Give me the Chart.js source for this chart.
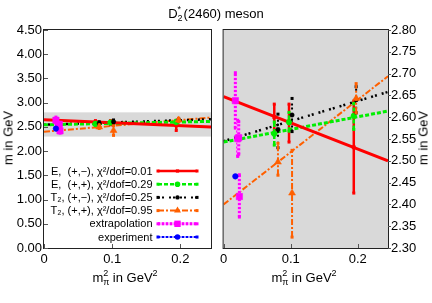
<!DOCTYPE html>
<html><head><meta charset="utf-8">
<script src="https://cdn.jsdelivr.net/npm/chart.js@4.4.0/dist/chart.umd.min.js"></script>
<style>
html,body{margin:0;padding:0;background:#fff;}
#wrap{position:relative;width:432px;height:303px;overflow:hidden;font-family:"Liberation Sans",Arial,sans-serif;color:#000;}
canvas{position:absolute;top:0;}
.t{position:absolute;font-size:13px;white-space:nowrap;line-height:13px;}
.st{position:relative;display:inline-block;width:6px;height:0;}
.sp,.sb{position:absolute;left:0;font-size:9px;line-height:9px;}
.sp{top:-13px;} .sb{top:-4px;}
.rot{transform:translate(-50%,-50%) rotate(-90deg);}
</style></head>
<body>
<div id="wrap">
<canvas id="c1" width="216" height="303" style="left:0;width:216px;height:303px"></canvas>
<canvas id="c2" width="216" height="303" style="left:216px;width:216px;height:303px"></canvas>
<div class="t" id="title" style="left:216px;top:7px;transform:translateX(-50%)">D<span class="st"><span class="sp">*</span><span class="sb">2</span></span>(2460) meson</div>
<div class="t" style="left:125px;top:271px;transform:translateX(-50%)">m<span class="st"><span class="sp">2</span><span class="sb">π</span></span> in GeV<span class="st" style="width:5px"><span class="sp">2</span></span></div>
<div class="t" style="left:304px;top:271px;transform:translateX(-50%)">m<span class="st"><span class="sp">2</span><span class="sb">π</span></span> in GeV<span class="st" style="width:5px"><span class="sp">2</span></span></div>
<div class="t rot" style="left:8px;top:138px">m in GeV</div>
<div class="t rot" style="left:423px;top:138px">m in GeV</div>
</div>
<script>
// ---------- data ----------
const xRange = [0, 0.245];
const yRangeFull = [0, 4.5];
const yRangeZoom = [2.30, 2.80];
const xTicks = [0, 0.1, 0.2];
const yTicksFull = [0, 0.5, 1, 1.5, 2, 2.5, 3, 3.5, 4, 4.5];
const yTicksZoom = [2.30, 2.35, 2.40, 2.45, 2.50, 2.55, 2.60, 2.65, 2.70, 2.75, 2.80];

// chiral fits (values at x = 0 and x = 0.245)
const fitX   = [0, 0.245];
const fitEm  = [2.647, 2.500];
const fitEp  = [2.543, 2.614];
const fitT2m = [2.545, 2.658];
const fitT2p = [2.400, 2.694];

// E (+,-)
const Em_x  = [0.0755, 0.0975, 0.194];
const Em_y  = [2.600, 2.587, 2.531];
const Em_lo = [2.570, 2.543, 2.426];
const Em_hi = [2.630, 2.630, 2.637];
// E (+,+)
const Ep_x  = [0.0755, 0.0975, 0.194];
const Ep_y  = [2.562, 2.589, 2.603];
const Ep_lo = [2.536, 2.568, 2.572];
const Ep_hi = [2.589, 2.611, 2.632];
// T2 (+,-)
const T2m_x  = [0.081, 0.102, 0.1975];
const T2m_y  = [2.572, 2.605, 2.640];
const T2m_lo = [2.530, 2.567, 2.610];
const T2m_hi = [2.607, 2.643, 2.670];
// T2 (+,+)
const T2p_x  = [0.081, 0.102, 0.1975];
const T2p_y  = [2.497, 2.426, 2.643];
const T2p_lo = [2.467, 2.325, 2.610];
const T2p_hi = [2.540, 2.524, 2.677];
// extrapolation to physical pion mass
const ex_x  = [0.0175, 0.021, 0.0225, 0.0235];
const ex_y  = [2.638, 2.551, 2.553, 2.418];
const ex_lo = [2.575, 2.510, 2.515, 2.371];
const ex_hi = [2.702, 2.593, 2.590, 2.468];
// experiment
const exp_x = [0.0175];
const exp_y = [2.4643];

const legendLabels = ["E,  (+,\u2212), \u03c7\u00b2/dof=0.01", "E,  (+,+), \u03c7\u00b2/dof=0.29",
  "T\u2082, (+,\u2212), \u03c7\u00b2/dof=0.25", "T\u2082, (+,+), \u03c7\u00b2/dof=0.95", "extrapolation", "experiment"];

// ---------- styles ----------
const ST = {
  Em:  {color:'#ff0000', width:3,   dash:[],          pt:'rect',     r:2.3, bw:2.5},
  Ep:  {color:'#00ee00', width:3,   dash:[4,2],       pt:'circle',   r:2.8, bw:2.5},
  T2m: {color:'#000000', width:2.5, dash:[2,2,2,5],   pt:'circle',   r:2.2, bw:2},
  T2p: {color:'#ff6000', width:2,   dash:[6,2,2,2],   pt:'triangle', r:4,   bw:2},
  ex:  {color:'#ff00ff', width:3,   dash:[2,2],       pt:'rect',     r:4.5, bw:3, under:'#ff9cff'},
  exp: {color:'#0000ff', width:2,   dash:[2,2],       pt:'circle',   r:2.8, bw:2, under:'#9c9cff'}
};
const legendKeys = ['Em','Ep','T2m','T2p','ex','exp'];

function pts(xs, ys){ return xs.map((x,i)=>({x:x, y:ys[i]})); }
function fitDs(ys, s, order){
  return {data:pts(fitX, ys), showLine:true, pointRadius:0, borderColor:s.color, borderWidth:s.width,
          borderDash:s.dash, order:order, fill:false};
}
function ptDs(xs, ys, lo, hi, s, order){
  return {data:pts(xs, ys), showLine:false, pointStyle:s.pt, pointRadius:s.r, pointBorderWidth:0.5,
          backgroundColor:s.color, borderColor:s.color, lo:lo, hi:hi, barW:s.bw, barDash:s.dash,
          under:s.under||null, order:order};
}
function makeDatasets(){
  return [
    ptDs(exp_x, exp_y, null, null, ST.exp, 0),
    ptDs(ex_x, ex_y, ex_lo, ex_hi, ST.ex, 1),
    ptDs(T2p_x, T2p_y, T2p_lo, T2p_hi, ST.T2p, 2),
    ptDs(T2m_x, T2m_y, T2m_lo, T2m_hi, ST.T2m, 3),
    ptDs(Ep_x, Ep_y, Ep_lo, Ep_hi, ST.Ep, 4),
    ptDs(Em_x, Em_y, Em_lo, Em_hi, ST.Em, 5),
    fitDs(fitEm, ST.Em, 6),
    fitDs(fitEp, ST.Ep, 7),
    fitDs(fitT2m, ST.T2m, 8),
    fitDs(fitT2p, ST.T2p, 9)
  ];
}

// ---------- plugins ----------
const errorBars = {
  id:'errorBars',
  beforeDatasetDraw(chart, args){
    const ds = chart.data.datasets[args.index];
    if(!ds.lo) return;
    const ctx = chart.ctx, ca = chart.chartArea, xs = chart.scales.x, ys = chart.scales.y;
    ctx.save();
    ctx.beginPath(); ctx.rect(ca.left, ca.top, ca.width, ca.height); ctx.clip();
    ds.data.forEach((p,i)=>{
      const x = xs.getPixelForValue(p.x), y1 = ys.getPixelForValue(ds.lo[i]), y2 = ys.getPixelForValue(ds.hi[i]);
      ctx.lineWidth = ds.barW;
      if(ds.under){
        ctx.setLineDash([]); ctx.strokeStyle = ds.under;
        ctx.beginPath(); ctx.moveTo(x,y1); ctx.lineTo(x,y2); ctx.stroke();
      }
      ctx.strokeStyle = ds.borderColor; ctx.fillStyle = ds.borderColor;
      ctx.setLineDash(ds.barDash||[]);
      ctx.beginPath(); ctx.moveTo(x,y1); ctx.lineTo(x,y2); ctx.stroke();
      ctx.fillRect(x-1.5,y1-1.5,3,3); ctx.fillRect(x-1.5,y2-1.5,3,3);
    });
    ctx.restore();
  }
};

function drawMarker(ctx, pt, x, y, r){
  ctx.beginPath();
  if(pt==='rect'){ const s=Math.SQRT1_2*r; ctx.rect(x-s,y-s,2*s,2*s); }
  else if(pt==='triangle'){ ctx.moveTo(x, y-r); ctx.lineTo(x+r*0.866, y+r*0.5); ctx.lineTo(x-r*0.866, y+r*0.5); ctx.closePath(); }
  else { ctx.arc(x,y,r,0,Math.PI*2); }
  ctx.fill();
}

const frame = {
  id:'frame',
  beforeDatasetsDraw(chart, args, opts){
    const ctx = chart.ctx, ca = chart.chartArea, ys = chart.scales.y;
    ctx.save();
    ctx.fillStyle = '#d9d9d9';
    if(opts.full){ ctx.fillRect(ca.left, ca.top, ca.width, ca.height); }
    else {
      const t = ys.getPixelForValue(yRangeZoom[1]), b = ys.getPixelForValue(yRangeZoom[0]);
      ctx.fillRect(ca.left, t, ca.width, b-t);
    }
    ctx.restore();
  },
  afterDraw(chart, args, opts){
    const ctx = chart.ctx, ca = chart.chartArea, xs = chart.scales.x, ys = chart.scales.y;
    ctx.save();
    ctx.setLineDash([]);
    ctx.strokeStyle = '#222'; ctx.lineWidth = 1;
    ctx.strokeRect(ca.left-0.5, ca.top-0.5, ca.width+1, ca.height+1);
    ctx.strokeStyle = '#555';
    ctx.beginPath();
    xs.ticks.forEach(t=>{
      const x = Math.round(xs.getPixelForValue(t.value))+0.5;
      ctx.moveTo(x, ca.bottom); ctx.lineTo(x, ca.bottom-4);
    });
    ys.ticks.forEach(t=>{
      const y = Math.round(ys.getPixelForValue(t.value))+0.5;
      if(opts.side==='left'){ ctx.moveTo(ca.left, y); ctx.lineTo(ca.left+4, y); }
      else { ctx.moveTo(ca.right, y); ctx.lineTo(ca.right+3, y); }
    });
    ctx.stroke();
    // legend
    if(opts.legend){
      ctx.font = '11px "Liberation Sans", Arial, sans-serif';
      ctx.textAlign = 'right'; ctx.textBaseline = 'middle';
      legendKeys.forEach((k,i)=>{
        const s = ST[k], y = 171 + i*13.2;
        ctx.fillStyle = '#000';
        ctx.fillText(legendLabels[i], 152.5, y+0.5);
        ctx.lineWidth = s.bw;
        if(s.under){
          ctx.setLineDash([]); ctx.strokeStyle = s.under;
          ctx.beginPath(); ctx.moveTo(158, y); ctx.lineTo(197, y); ctx.stroke();
        }
        ctx.strokeStyle = s.color; ctx.fillStyle = s.color;
        ctx.setLineDash(s.dash);
        ctx.beginPath(); ctx.moveTo(158, y); ctx.lineTo(197, y); ctx.stroke();
        ctx.setLineDash([]);
        ctx.fillRect(156.5, y-1.5, 3, 3); ctx.fillRect(195.5, y-1.5, 3, 3);
        drawMarker(ctx, s.pt, 177.5, y, s.r);
      });
    }
    ctx.restore();
  }
};

const tickFont = {family:'"Liberation Sans", Arial, sans-serif', size:13};

function makeChart(id, yRange, yTicks, side, full, legend){
  return new Chart(document.getElementById(id), {
    type:'scatter',
    data:{datasets:makeDatasets()},
    options:{
      responsive:false, devicePixelRatio:1, animation:false,
      layout:{padding: side==='left' ? {top:30, right:5, left:0, bottom:0} : {top:30, right:0, left:4, bottom:0}},
      plugins:{legend:{display:false}, tooltip:{enabled:false}, title:{display:false},
               frame:{side:side, full:full, legend:legend}},
      scales:{
        x:{type:'linear', min:xRange[0], max:xRange[1],
           grid:{display:false, drawTicks:false}, border:{display:false},
           afterBuildTicks:s=>{ s.ticks = xTicks.map(v=>({value:v})); },
           afterFit:s=>{ s.height = 55; },
           ticks:{font:tickFont, color:'#000', padding:4, maxRotation:0, autoSkip:false,
                  callback:v=> v===0 ? '0' : v.toFixed(1)}},
        y:{type:'linear', position:side, min:yRange[0], max:yRange[1],
           grid:{display:false, drawTicks:false}, border:{display:false},
           afterBuildTicks:s=>{ s.ticks = yTicks.map(v=>({value:v})); },
           afterFit:s=>{ s.width = 44; },
           ticks:{font:tickFont, color:'#000', padding: side==='left'?2:3, autoSkip:false,
                  callback:v=> v.toFixed(2)}}
      }
    },
    plugins:[errorBars, frame]
  });
}

makeChart('c1', yRangeFull, yTicksFull, 'left', false, true);
makeChart('c2', yRangeZoom, yTicksZoom, 'right', true, false);
</script>
</body></html>
